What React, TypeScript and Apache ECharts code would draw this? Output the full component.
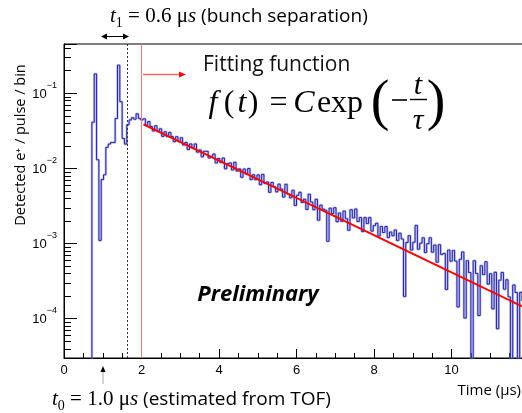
import React, { useEffect, useRef } from "react";
import * as echarts from "echarts";

// ---- data -----------------------------------------------------------------
const ZERO = 1e-6; // empty bin: lies below the log axis and is clipped
const BIN_START = 0.66; // µs, left edge of first bin
const BIN_WIDTH = 0.06; // µs

// bins 0.66 .. 1.98 µs (two proton bunches)
const earlyCounts = [
  ZERO, 0.041, 0.18, 0.013, 0.0011, 0.0071, 0.0082, 0.019, 0.021, 0.022, 0.022,
  0.046, 0.235, 0.077, 0.025, 0.021, 0.038, 0.044, 0.047, 0.045, 0.053, 0.046,
];

// bins 1.98 .. 11.94 µs (decay region)
const decayCounts = [
  0.044, 0.0455, 0.0374, 0.0418, 0.036, 0.0314, 0.0368, 0.0309, 0.0335, 0.0266,
  0.0307, 0.0264, 0.03, 0.0264, 0.0226, 0.0263, 0.0227, 0.0255, 0.0204, 0.0221,
  0.0178, 0.0211, 0.0189, 0.0211, 0.0164, 0.0175, 0.0142, 0.0168, 0.0169, 0.0137,
  0.0144, 0.0155, 0.0118, 0.0135, 0.012, 0.0137, 0.00986, 0.0115, 0.0118, 0.00952,
  0.012, 0.00918, 0.00981, 0.00759, 0.00977, 0.00843, 0.00994, 0.00708, 0.00822, 0.00706,
  0.00817, 0.00605, 0.00829, 0.00628, 0.00657, 0.00479, 0.00648, 0.0057, 0.00486, 0.00616,
  0.0053, 0.00415, 0.00612, 0.00455, 0.00405, 0.0051, 0.00321, 0.00437, 0.0048, 0.00352,
  0.00388, 0.00284, 0.00452, 0.00356, 0.00282, 0.00387, 0.00204, 0.00324, 0.00287, 0.00277,
  0.00107, 0.00295, 0.0025, 0.00299, 0.00195, 0.00254, 0.00197, 0.0027, 0.00213, 0.0015,
  0.00281, 0.00219, 0.00287, 0.00196, 0.00221, 0.00144, 0.00221, 0.00185, 0.00221, 0.00146,
  0.00173, 0.00186, 0.00126, 0.00168, 0.0014, 0.00168, 0.0012, 0.00142, 0.00127, 0.00151,
  0.0011, 0.00137, 0.00115, 0.000198, 0.00103, 0.00127, 0.000818, 0.00104, 0.00174, 0.000839,
  0.00101, 0.00119, 0.000758, 0.000996, 0.00119, 0.000766, 0.000952, 0.000562, 0.000963, 0.000716,
  0.000738, 0.000245, 0.000819, 0.000582, 0.000804, 0.000584, 0.000143, 0.000617, 0.000772, 0.000102,
  0.000589, 0.000411, ZERO, 0.00059, 0.000399, 0.00011, 0.000505, 0.000386, 0.000573, 0.000288,
  0.000396, 0.000135, 0.000414, 0.0000735, 0.000325, 0.000412, 0.000247, 0.000329, 0.000195, ZERO,
  0.000281, 0.000223, ZERO, 0.000224, 0.000173, 0.000222,
];

// fitted exponential: straight line on the log axis between these two points
const fitTimes = [2.05, 12.0];
const fitValues = [0.0384, 0.000132];

const FIT_START_TIME = 2.0; // red marker line
const BUNCH_END_TIME = 1.62; // dotted marker line

const X_MIN = 0;
const X_MAX = 12;
const X_INTERVAL = 2;
const Y_MIN = 3e-5;
const Y_MAX = 0.45;

const minorMantissas = [2, 3, 4, 5, 6, 7, 8, 9];
const minorDecades = [1e-5, 1e-4, 1e-3, 1e-2, 1e-1];

// ---------------------------------------------------------------------------
const allCounts = [...earlyCounts, ...decayCounts];
const histData: number[][] = allCounts.map((v, i) => [
  +(BIN_START + i * BIN_WIDTH).toFixed(3),
  v,
]);
histData.push([
  +(BIN_START + allCounts.length * BIN_WIDTH).toFixed(3),
  allCounts[allCounts.length - 1],
]);
const fitData = fitTimes.map((t, i) => [t, fitValues[i]]);
const yMinorTicks: number[] = [];
minorDecades.forEach((d) =>
  minorMantissas.forEach((m) => {
    const v = +(m * d).toPrecision(3);
    if (v > Y_MIN && v < Y_MAX) yMinorTicks.push(v);
  })
);

const SANS = "'Open Sans', 'Noto Sans', sans-serif";
const SERIF = "'Liberation Serif', 'DejaVu Serif', serif";
const ARIAL = "'Liberation Sans', Arial, sans-serif";

function mathText(x: number, y: number, text: string, size: number, italic: boolean) {
  return {
    type: "text",
    x,
    y,
    silent: true,
    style: {
      text,
      fill: "#000",
      fontFamily: SERIF,
      fontSize: size,
      fontStyle: italic ? "italic" : "normal",
      align: "center",
      verticalAlign: "middle",
    },
  };
}

export default function App() {
  const ref = useRef<HTMLDivElement>(null);

  useEffect(() => {
    if (!ref.current) return;
    document.body.style.overflow = "hidden";
    const chart = echarts.init(ref.current, undefined, { renderer: "svg" });

    const labelRich = {
      i: { fontFamily: SERIF, fontStyle: "italic", fontSize: 21, lineHeight: 28, color: "#000" },
      sub: { fontFamily: SERIF, fontSize: 14, lineHeight: 14, verticalAlign: "bottom", color: "#000" },
      r: { fontFamily: SERIF, fontSize: 21, lineHeight: 28, color: "#000" },
      s: { fontFamily: SANS, fontSize: 19, lineHeight: 28, color: "#000" },
    };

    const option: any = {
      animation: false,
      grid: {
        left: 64,
        top: 44,
        right: 11,
        bottom: 55,
        show: true,
        borderColor: "#000",
        borderWidth: 1,
        backgroundColor: "transparent",
      },
      xAxis: {
        type: "value",
        min: X_MIN,
        max: X_MAX,
        interval: X_INTERVAL,
        axisLine: { lineStyle: { color: "#000", width: 1 } },
        axisTick: { inside: true, length: 9, lineStyle: { color: "#000" } },
        minorTick: { show: true, splitNumber: 4, length: 5, lineStyle: { color: "#000" } },
        axisLabel: {
          color: "#000",
          fontFamily: ARIAL,
          fontSize: 13,
          margin: 5,
          showMaxLabel: false,
        },
        splitLine: { show: false },
        minorSplitLine: { show: false },
      },
      yAxis: {
        type: "log",
        logBase: 10,
        min: Y_MIN,
        max: Y_MAX,
        axisLine: { lineStyle: { color: "#000", width: 1 } },
        axisTick: { inside: true, length: 13, lineStyle: { color: "#000" } },
        minorTick: { show: false },
        splitLine: { show: false },
        axisLabel: {
          margin: 7,
          formatter: (v: number) => {
            const lg = Math.log10(v);
            const e = Math.round(lg);
            if (Math.abs(lg - e) > 1e-6) return "";
            return `{b|10}{s|${e < 0 ? "−" : ""}${Math.abs(e)}}`;
          },
          rich: {
            b: { fontFamily: ARIAL, fontSize: 13, lineHeight: 26, color: "#000" },
            s: { fontFamily: ARIAL, fontSize: 9, lineHeight: 11, verticalAlign: "top", color: "#000" },
          },
        },
      },
      series: [
        {
          type: "line",
          step: "end",
          data: histData,
          showSymbol: false,
          symbol: "none",
          clip: true,
          lineStyle: { color: "rgba(130,130,220,0.5)", width: 2.5 },
          z: 2,
          silent: true,
        },
        {
          type: "line",
          step: "end",
          data: histData,
          showSymbol: false,
          symbol: "none",
          clip: true,
          lineStyle: { color: "#2626a0", width: 1 },
          z: 3,
          silent: true,
        },
        {
          type: "line",
          data: fitData,
          showSymbol: false,
          symbol: "none",
          clip: true,
          lineStyle: { color: "#ff0000", width: 2 },
          z: 4,
          silent: true,
          markLine: {
            silent: true,
            symbol: ["none", "none"],
            label: { show: false },
            animation: false,
            data: [
              { xAxis: FIT_START_TIME, lineStyle: { color: "#f27b7b", width: 1, type: "solid" } },
              { xAxis: BUNCH_END_TIME, lineStyle: { color: "#333", width: 1, type: [2, 2] } },
            ],
          },
        },
        {
          type: "custom",
          coordinateSystem: "cartesian2d",
          silent: true,
          z: 5,
          data: yMinorTicks.map((v) => [X_MIN, v]),
          renderItem: (_p: any, api: any) => {
            const c = api.coord([api.value(0), api.value(1)]);
            const y = Math.round(c[1]) + 0.5;
            return {
              type: "line",
              shape: { x1: c[0], y1: y, x2: c[0] + 7, y2: y },
              style: { stroke: "#000", lineWidth: 1 },
            };
          },
        },
      ],
      graphic: [
        // y axis title
        {
          type: "text",
          x: 19,
          y: 145,
          rotation: Math.PI / 2,
          silent: true,
          style: {
            text: "Detected e⁺ / pulse / bin",
            fill: "#000",
            fontFamily: SANS,
            fontSize: 14.5,
            align: "center",
            verticalAlign: "middle",
          },
        },
        // x axis title
        {
          type: "text",
          x: 521,
          y: 389,
          silent: true,
          style: {
            text: "Time (μs)",
            fill: "#000",
            fontFamily: SANS,
            fontSize: 15,
            align: "right",
            verticalAlign: "middle",
          },
        },
        // t1 annotation
        {
          type: "text",
          x: 110,
          y: 15,
          silent: true,
          style: {
            text: "{i|t}{sub|1}{r| = 0.6 μ}{i|s}{s| (bunch separation)}",
            rich: labelRich,
            verticalAlign: "middle",
          },
        },
        { type: "line", silent: true, shape: { x1: 104, y1: 36.5, x2: 126, y2: 36.5 }, style: { stroke: "#000", lineWidth: 1 } },
        { type: "polygon", silent: true, shape: { points: [[101, 36.5], [107, 33.5], [107, 39.5]] }, style: { fill: "#000" } },
        { type: "polygon", silent: true, shape: { points: [[129, 36.5], [123, 33.5], [123, 39.5]] }, style: { fill: "#000" } },
        // t0 annotation
        {
          type: "text",
          x: 52,
          y: 398,
          silent: true,
          style: {
            text: "{i|t}{sub|0}{r| = 1.0 μ}{i|s}{s| (estimated from TOF)}",
            rich: labelRich,
            verticalAlign: "middle",
          },
        },
        { type: "line", silent: true, shape: { x1: 103, y1: 371, x2: 103, y2: 384 }, style: { stroke: "#aaa", lineWidth: 1 } },
        { type: "polygon", silent: true, shape: { points: [[103, 366], [100.5, 372], [105.5, 372]] }, style: { fill: "#000" } },
        // red arrow towards fitting function
        { type: "line", silent: true, shape: { x1: 143, y1: 74.5, x2: 180, y2: 74.5 }, style: { stroke: "#f06a6a", lineWidth: 1.5 } },
        { type: "polygon", silent: true, shape: { points: [[186, 74.5], [179, 71.5], [179, 77.5]] }, style: { fill: "#ee1111" } },
        // Fitting function text
        {
          type: "text",
          x: 203,
          y: 63,
          silent: true,
          style: {
            text: "Fitting function",
            fill: "#111",
            fontFamily: SANS,
            fontSize: 21,
            align: "left",
            verticalAlign: "middle",
          },
        },
        mathText(213, 101, "f", 32, true),
        mathText(229, 101, "(", 32, false),
        mathText(242, 101, "t", 32, true),
        mathText(253, 101, ")", 32, false),
        mathText(278.5, 101, "=", 32, false),
        mathText(304, 101, "C", 32, true),
        mathText(340, 101, "exp", 32, false),
        mathText(380, 100, "(", 56, false),
        { type: "line", silent: true, shape: { x1: 392, y1: 100, x2: 407, y2: 100 }, style: { stroke: "#000", lineWidth: 1.6 } },
        mathText(418, 83, "t", 30, true),
        { type: "line", silent: true, shape: { x1: 410, y1: 99.5, x2: 427, y2: 99.5 }, style: { stroke: "#000", lineWidth: 1.4 } },
        mathText(418, 118, "τ", 30, true),
        mathText(436, 100, ")", 56, false),
        // Preliminary
        {
          type: "text",
          x: 258,
          y: 292,
          silent: true,
          style: {
            text: "Preliminary",
            fill: "#000",
            fontFamily: SANS,
            fontSize: 22,
            fontWeight: "bold",
            fontStyle: "italic",
            align: "center",
            verticalAlign: "middle",
          },
        },
      ],
    };

    chart.setOption(option);
    return () => chart.dispose();
  }, []);

  return (
    <div
      ref={ref}
      style={{ position: "fixed", left: 0, top: 0, width: 540, height: 413 }}
    />
  );
}
